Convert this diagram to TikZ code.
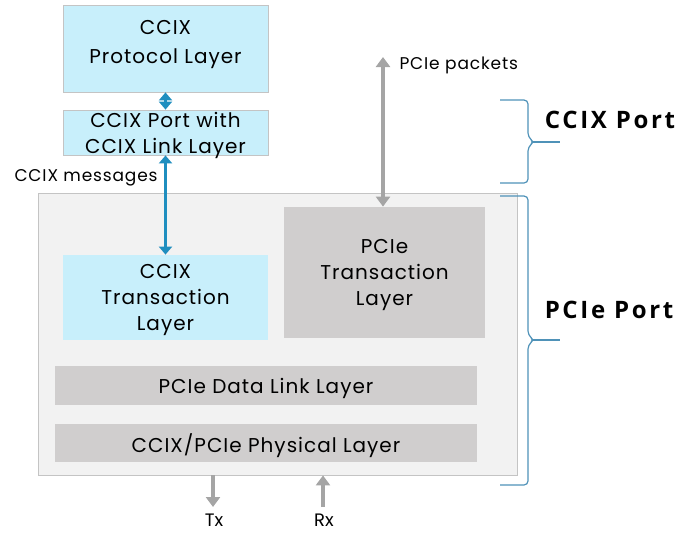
\documentclass[tikz,border=0pt]{standalone}
\usepackage{fontspec}
\setmainfont{Poppins}
\newfontfamily\portfont{Open Sans}
\usetikzlibrary{arrows.meta}
\usetikzlibrary{positioning}

\definecolor{ccixblue}{HTML}{C8EFFB}
\definecolor{pciegray}{HTML}{D0CECE}
\definecolor{portgray}{HTML}{F2F2F2}
\definecolor{edgegray}{HTML}{C4C4C4}
\definecolor{arrowteal}{HTML}{1F8EBF}
\definecolor{arrowgray}{HTML}{A5A5A5}
\definecolor{bracecol}{HTML}{4F92B8}

\begin{document}
\begin{tikzpicture}[x=1pt,y=-1pt,>={Triangle[length=8pt,width=13pt]},
    layer/.style={draw=edgegray,line width=0.8pt,align=center,inner sep=0pt,text depth=0pt,
      font=\fontsize{20}{26}\selectfont\addfontfeature{LetterSpace=5}},
    ccix layer/.style={layer,fill=ccixblue},
    pcie layer/.style={layer,fill=pciegray,draw=none},
    teal link/.style={<->,arrowteal,line width=3pt},
    gray link/.style={arrowgray,line width=3.5pt,>={Triangle[length=10pt,width=14pt]}},
    brace/.style={bracecol,line width=1.2pt,rounded corners=4pt},
    port label/.style={font=\portfont\fontsize{24}{26}\selectfont\bfseries\addfontfeature{LetterSpace=11}},
    small label/.style={font=\fontsize{17}{20}\selectfont\addfontfeature{LetterSpace=5}},
    pin label/.style={font=\fontsize{18}{20}\selectfont,inner sep=0pt}]

  \useasboundingbox (0,0) rectangle (678,533);

  % PCIe port frame
  \node[layer,fill=portgray,minimum width=479pt,minimum height=282pt] (pcieport) at (277.5,334) {};

  % layers
  \node[ccix layer,minimum width=205pt,minimum height=87pt,text depth=14pt] (proto) at (165.5,48.5) {CCIX\\[3pt]Protocol Layer};
  \node[ccix layer,minimum width=205pt,minimum height=45pt] (link) at (165.5,132.5) {CCIX Port with\\CCIX Link Layer};
  \node[ccix layer,draw=none,minimum width=205pt,minimum height=85pt] (ccixtl) at (165.5,297.5) {CCIX\\Transaction\\Layer};
  \node[pcie layer,minimum width=201pt,minimum height=131pt] (pcietl) at (384.5,272.5) {PCIe\\Transaction\\Layer};
  \node[pcie layer,minimum width=422pt,minimum height=39pt] (dll) at (266,385.5) {PCIe Data Link Layer};
  \node[pcie layer,minimum width=422pt,minimum height=38pt] (phy) at (266,443) {CCIX/PCIe Physical Layer};

  % labels
  \node[small label,anchor=west] (messages) at (11,178) {CCIX messages};
  \node[small label,anchor=west] (packets) at (396,65) {PCIe packets};
  \node[pin label] (tx) at (214,520) {Tx};
  \node[pin label] (rx) at (324,520) {Rx};
  \node[port label] (ccixport) at (610,120) {CCIX Port};
  \node[port label] (pcieportlabel) at (609,310) {PCIe Port};

  \coordinate (packettop) at (383,57);
  \coordinate (txend) at (213,507);

  % connectors
  \path (proto) edge[teal link] (link)
        (link) edge[teal link] (ccixtl);
  \draw[gray link,<->] (packettop) -- (pcietl.north -| packettop);
  \draw[gray link,->] (pcieport.south -| txend) -- (txend);
  \draw[gray link,->] (323,507) -- (pcieport.south -| 323,0);

  % braces
  \draw[brace] (500,100) -- (528,100) -- (528,137) -- (534,142) -- (528,147) -- (528,183) -- (500,183);
  \draw[brace] (532,142) -- (560,142);
  \draw[brace] (500,196) -- (528,196) -- (528,335) -- (534,340) -- (528,345) -- (528,485) -- (500,485);
  \draw[brace] (532,340) -- (560,340);
\end{tikzpicture}
\end{document}
